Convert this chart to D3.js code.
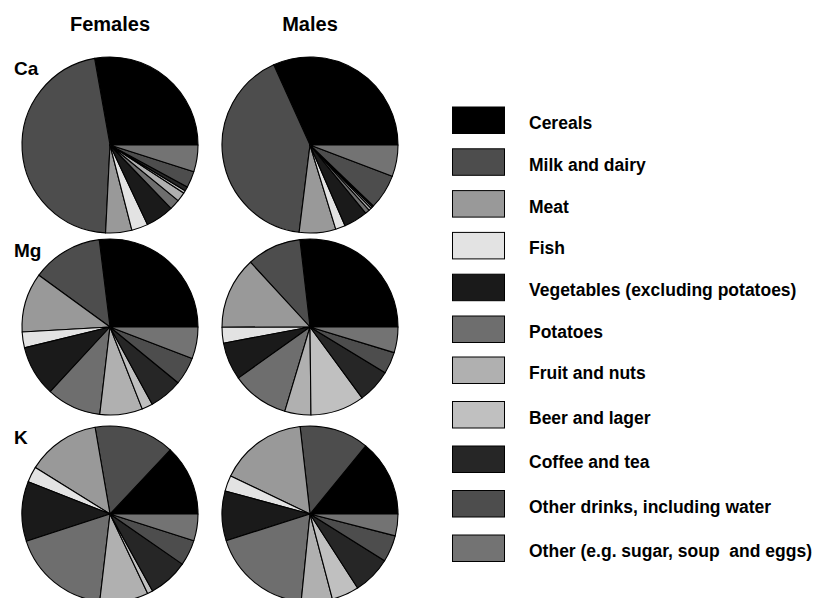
<!DOCTYPE html>
<meta charset="utf-8">
<head>
    <script src="https://d3js.org/d3.v7.min.js"></script>
    <style>
        body { margin: 0; background: #fff; }
        svg text { font-family: "Liberation Sans", Arial, Helvetica, sans-serif; font-weight: bold; fill: #000; }
    </style>
</head>
<body>
<div id="my_dataviz"></div>
</body>

<script>

    // food groups (legend order = slice order)
    var categories = ["Cereals", "Milk and dairy", "Meat", "Fish", "Vegetables (excluding potatoes)",
        "Potatoes", "Fruit and nuts", "Beer and lager", "Coffee and tea",
        "Other drinks, including water", "Other (e.g. sugar, soup  and eggs)"];

    var greys = ["#000000", "#4d4d4d", "#999999", "#e3e3e3", "#1a1a1a",
        "#6e6e6e", "#b0b0b0", "#c0c0c0", "#262626", "#4d4d4d", "#737373"];

    var sexes = ["Females", "Males"];
    var nutrients = ["Ca", "Mg", "K"];

    // percent contribution of each food group
    var caFemales = [27.8, 46.4, 4.8, 3.0, 5.2, 1.9, 1.7, 0.5, 0.8, 3.0, 4.9];
    var caMales   = [31.8, 41.3, 6.7, 1.8, 4.4, 0.8, 0.5, 0.3, 0.3, 6.4, 5.8];
    var mgFemales = [26.9, 13.0, 10.9, 2.9, 9.3, 10.0, 7.8, 2.0, 6.1, 5.1, 5.8];
    var mgMales   = [26.8, 10.0, 13.2, 2.9, 6.9, 10.5, 4.8, 9.9, 6.2, 4.0, 4.7];
    var kFemales  = [13.0, 14.7, 13.4, 2.9, 11.0, 18.1, 8.9, 1.0, 7.3, 4.75, 4.9];
    var kMales    = [14.1, 12.7, 16.1, 2.9, 9.1, 18.5, 5.7, 5.0, 7.0, 4.9, 4.0];

    var pies = [
        {nutrient: "Ca", sex: "Females", values: caFemales},
        {nutrient: "Ca", sex: "Males", values: caMales},
        {nutrient: "Mg", sex: "Females", values: mgFemales},
        {nutrient: "Mg", sex: "Males", values: mgMales},
        {nutrient: "K", sex: "Females", values: kFemales},
        {nutrient: "K", sex: "Males", values: kMales}
    ];

    var width = 826, height = 598, radius = 88;

    var svg = d3.select("#my_dataviz")
        .append("svg")
        .attr("width", width)
        .attr("height", height);

    // pie centres
    var x = d3.scaleOrdinal().domain(sexes).range([110, 310]);
    var y = d3.scaleOrdinal().domain(nutrients).range([145, 327, 514]);

    var color = d3.scaleOrdinal().domain(categories).range(greys);

    // slices start at 3 o'clock and run anticlockwise
    var pie = d3.pie()
        .sort(null)
        .value(function(d) { return d.value; })
        .startAngle(Math.PI / 2)
        .endAngle(Math.PI / 2 - 2 * Math.PI);

    var arc = d3.arc().innerRadius(0).outerRadius(radius);

    // column headers
    svg.selectAll(".colhead")
        .data(sexes)
        .enter().append("text")
        .attr("x", function(d) { return x(d); })
        .attr("y", 31)
        .attr("text-anchor", "middle")
        .style("font-size", "20px")
        .text(function(d) { return d; });

    var g = svg.selectAll(".pie")
        .data(pies)
        .enter().append("g")
        .attr("transform", function(d) { return "translate(" + x(d.sex) + "," + y(d.nutrient) + ")"; });

    g.selectAll("path")
        .data(function(d) {
            return pie(d.values.map(function(v, i) { return {key: categories[i], value: v}; }));
        })
        .enter().append("path")
        .attr("d", arc)
        .attr("fill", function(d) { return color(d.data.key); })
        .attr("stroke", "#000")
        .attr("stroke-width", 1.1)
        .attr("stroke-linejoin", "round");

    // row labels
    svg.selectAll(".rowhead")
        .data(nutrients)
        .enter().append("text")
        .attr("x", 14)
        .attr("y", function(d) { return y(d) - 70; })
        .style("font-size", "19px")
        .text(function(d) { return d; });

    // legend
    var ly = d3.scaleLinear().domain([0, 5, 6, 10]).range([129, 338, 379, 557]);

    var legend = svg.append("g").attr("class", "legend");

    legend.selectAll("rect")
        .data(categories)
        .enter().append("rect")
        .attr("x", 452.5)
        .attr("y", function(d, i) { return ly(i) - 22; })
        .attr("width", 52)
        .attr("height", 26.5)
        .attr("fill", function(d) { return color(d); })
        .attr("stroke", "#000")
        .attr("stroke-width", 1);

    legend.selectAll("text")
        .data(categories)
        .enter().append("text")
        .attr("x", 529)
        .attr("y", function(d, i) { return ly(i); })
        .style("font-size", "17.5px")
        .style("white-space", "pre")
        .text(function(d) { return d; });

</script>
